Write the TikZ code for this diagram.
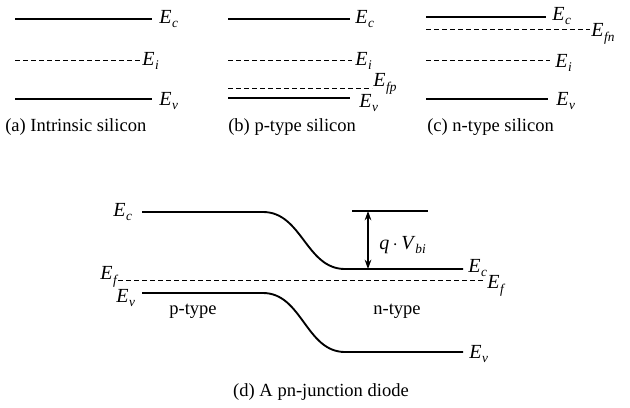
\documentclass[tikz,border=0pt]{standalone}
\usepackage{fontspec}
\setmainfont{Liberation Serif}
\usetikzlibrary{arrows.meta}
\newcommand\En[1]{\textit{E}\kern0.5pt\raisebox{-0.5ex}{\fontsize{10}{10}\selectfont\textit{#1}}}
\tikzset{
  band/.style={line width=1.4pt},
  fermi/.style={line width=0.6pt, dash pattern=on 3.5pt off 2.5pt},
  lbl/.style={anchor=west, inner sep=0pt, font=\fontsize{15}{15}\selectfont},
  captxt/.style={anchor=west, inner sep=0pt, font=\fontsize{13.9}{15}\selectfont},
}
\begin{document}
\begin{tikzpicture}[x=0.75pt,y=-0.75pt]
\useasboundingbox (0,0) rectangle (630,407);
% (a) intrinsic
\coordinate (a1) at (15,19); \coordinate (a2) at (152,19);
\coordinate (a3) at (15,60); \coordinate (a4) at (140,60);
\coordinate (a5) at (15,99); \coordinate (a6) at (152,99);
\draw[band] (a1) -- (a2);
\draw[fermi] (a3) -- (a4);
\draw[band] (a5) -- (a6);
\node[lbl] (aEc) at (159,19) {\En{c}};
\node[lbl] (aEi) at (142,61) {\En{i}};
\node[lbl] (aEv) at (159,101) {\En{v}};
\node[captxt] (acap) at (5,127) {(a) Intrinsic silicon};
% (b) p-type
\coordinate (b1) at (228,19); \coordinate (b2) at (350,19);
\coordinate (b3) at (228,60); \coordinate (b4) at (352,60);
\coordinate (b5) at (228,88); \coordinate (b6) at (372,88);
\coordinate (b7) at (228,98); \coordinate (b8) at (350,98);
\draw[band] (b1) -- (b2);
\draw[fermi] (b3) -- (b4);
\draw[fermi] (b5) -- (b6);
\draw[band] (b7) -- (b8);
\node[lbl] (bEc) at (355,19) {\En{c}};
\node[lbl] (bEi) at (355,61) {\En{i}};
\node[lbl] (bEf) at (373,84) {\En{fp}};
\node[lbl] (bEv) at (359,103) {\En{v}};
\node[captxt] (bcap) at (228,127) {(b) p-type silicon};
% (c) n-type
\coordinate (c1) at (426,17); \coordinate (c2) at (546,17);
\coordinate (c3) at (426,29); \coordinate (c4) at (590,29);
\coordinate (c5) at (426,60); \coordinate (c6) at (550,60);
\coordinate (c7) at (426,99); \coordinate (c8) at (548,99);
\draw[band] (c1) -- (c2);
\draw[fermi] (c3) -- (c4);
\draw[fermi] (c5) -- (c6);
\draw[band] (c7) -- (c8);
\node[lbl] (cEc) at (552,16) {\En{c}};
\node[lbl] (cEf) at (591,34) {\En{fn}};
\node[lbl] (cEi) at (555,63) {\En{i}};
\node[lbl] (cEv) at (556,101) {\En{v}};
\node[captxt] (ccap) at (427,127) {(c) n-type silicon};
% (d) pn junction
\coordinate (dc1) at (142,212); \coordinate (dc2) at (263,212);
\coordinate (dc3) at (345,269); \coordinate (dc4) at (463,269);
\coordinate (dv1) at (142,293); \coordinate (dv2) at (263,293);
\coordinate (dv3) at (345,352); \coordinate (dv4) at (463,352);
\coordinate (df1) at (118,280); \coordinate (df2) at (484,280);
\coordinate (ref1) at (352,211); \coordinate (ref2) at (428,211);
\coordinate (ar1) at (368,211); \coordinate (ar2) at (368,269);
\draw[band] (dc1) -- (dc2) .. controls (302,212) and (306,269) .. (dc3) -- (dc4);
\draw[band] (dv1) -- (dv2) .. controls (302,293) and (306,352) .. (dv3) -- (dv4);
\draw[fermi] (df1) -- (df2);
\draw[line width=0.8pt] (ref1) -- (ref2);
\draw[line width=0.9pt, {Stealth[length=7pt,width=5pt]}-{Stealth[length=7pt,width=5pt]}] (ar1) -- (ar2);
\node[lbl] (dEcL) at (113,212) {\En{c}};
\node[lbl] (dEcR) at (468,268) {\En{c}};
\node[lbl] (dEfL) at (100,277) {\En{f}};
\node[lbl] (dEfR) at (487,286) {\En{f}};
\node[lbl] (dEvL) at (116,298) {\En{v}};
\node[lbl] (dEvR) at (469,354) {\En{v}};
\node[lbl] (qv) at (379,245) {\textit{q}\,$\cdot$\,\textit{V}\raisebox{-0.5ex}{\fontsize{10}{10}\selectfont\textit{bi}}};
\node[captxt, anchor=center] (pt) at (193,311) {p-type};
\node[captxt, anchor=center] (nt) at (397,311) {n-type};
\node[captxt, anchor=center] (dcap) at (321,392) {(d) A pn-junction diode};
\end{tikzpicture}
\end{document}
